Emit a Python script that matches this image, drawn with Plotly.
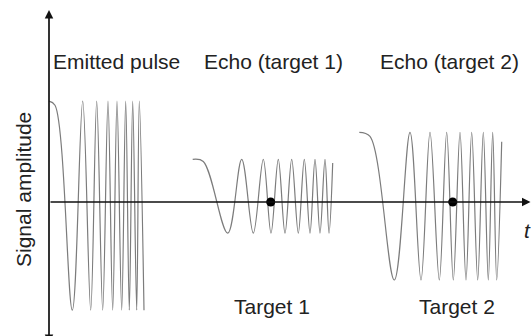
import plotly.graph_objects as go

# Emitted chirp and its two echoes, described by the times of their
# successive extrema (start, shoulder, then alternating troughs / peaks)
# and the signal amplitude at each of those instants.
emit_t = [0.0, 0.6, 2.33, 3.37, 4.17, 4.77, 5.37, 5.9, 6.37, 6.8, 7.27,
          7.67, 8.03, 8.37, 8.77, 9.03, 9.5]
emit_a = [0.97, 0.93, -1.04, 0.97, -1.04, 0.97, -1.04, 0.97, -1.04, 0.97,
          -1.04, 0.97, -1.04, 0.97, -1.04, 0.97, -1.04]

echo1_t = [14.37, 15.43, 17.87, 19.27, 20.43, 21.43, 22.2, 22.93, 23.6,
           24.27, 24.93, 25.53, 26.1, 26.6, 27.1, 27.6, 28.0, 28.37]
echo1_a = [0.41, 0.39, -0.30, 0.41, -0.30, 0.41, -0.30, 0.41, -0.30,
           0.41, -0.30, 0.41, -0.30, 0.41, -0.30, 0.41, -0.30, 0.375]

echo2_t = [31.03, 32.1, 34.53, 36.1, 37.2, 38.1, 39.03, 39.77, 40.43,
           41.1, 41.7, 42.27, 42.87, 43.43, 43.93, 44.37, 44.77, 45.27]
echo2_a = [0.67, 0.63, -0.75, 0.67, -0.75, 0.67, -0.75, 0.67, -0.75,
           0.67, -0.75, 0.67, -0.75, 0.67, -0.75, 0.67, -0.75, 0.58]

# Arrival times marking each target
target_t = [22.17, 40.37]
target_a = [0.0, 0.0]

pulse_labels = ["Emitted pulse", "Echo (target 1)", "Echo (target 2)"]
target_labels = ["Target 1", "Target 2"]

W, H = 531, 336
X_RANGE = [-4.9, 48.2]
Y_RANGE = [-1.2885, 1.9423]

WAVE = dict(color="#7c7c7c", width=1.2, shape="spline", smoothing=1.0)
FONT = "Liberation Sans, Arial, Helvetica, sans-serif"
TXT = "#222222"

fig = go.Figure()
for t, a in [(emit_t, emit_a), (echo1_t, echo1_a), (echo2_t, echo2_a)]:
    fig.add_trace(go.Scatter(x=t, y=a, mode="lines", line=WAVE,
                             hoverinfo="skip", showlegend=False))

fig.add_trace(go.Scatter(x=target_t, y=target_a, mode="markers",
                         marker=dict(color="black", size=9),
                         hoverinfo="skip", showlegend=False))

annotations = []

# time axis with arrow
annotations.append(dict(x=48.15, y=0, ax=0, ay=0, xref="x", yref="y",
                        axref="x", ayref="y", text="", showarrow=True,
                        arrowhead=2, arrowsize=1.0, arrowwidth=1.7,
                        arrowcolor="#111111", standoff=0))
# amplitude axis, arrows at both ends
annotations.append(dict(x=0, y=1.845, ax=0, ay=-1.37, xref="x", yref="y",
                        axref="x", ayref="y", text="", showarrow=True,
                        arrowhead=2, startarrowhead=2, arrowside="end+start",
                        arrowsize=1.0, startarrowsize=1.0, arrowwidth=1.7,
                        arrowcolor="#111111", standoff=0, startstandoff=0))


def px(x, y):
    return x / W, 1 - y / H


for label, (x, y) in zip(pulse_labels, [(51, 61), (201.5, 61), (377.5, 61)]):
    xp, yp = px(x, y)
    annotations.append(dict(x=xp, y=yp, xref="paper", yref="paper",
                            text=label, showarrow=False, xanchor="left",
                            yanchor="middle",
                            font=dict(family=FONT, size=21, color=TXT)))

for label, (x, y) in zip(target_labels, [(231.5, 306), (416.5, 306)]):
    xp, yp = px(x, y)
    annotations.append(dict(x=xp, y=yp, xref="paper", yref="paper",
                            text=label, showarrow=False, xanchor="left",
                            yanchor="middle",
                            font=dict(family=FONT, size=21, color=TXT)))

xp, yp = px(23, 190)
annotations.append(dict(x=xp, y=yp, xref="paper", yref="paper",
                        text="Signal amplitude", textangle=-90,
                        showarrow=False, xanchor="center", yanchor="middle",
                        font=dict(family=FONT, size=21, color=TXT)))

xp, yp = px(527, 230)
annotations.append(dict(x=xp, y=yp, xref="paper", yref="paper",
                        text="<i>t</i>", showarrow=False, xanchor="center",
                        yanchor="middle",
                        font=dict(family=FONT, size=21, color=TXT)))

fig.update_layout(
    width=W, height=H,
    margin=dict(l=0, r=0, t=0, b=0),
    paper_bgcolor="white", plot_bgcolor="white",
    xaxis=dict(range=X_RANGE, visible=False, fixedrange=True),
    yaxis=dict(range=Y_RANGE, visible=False, fixedrange=True),
    annotations=annotations,
    showlegend=False,
)

fig.write_html("out.html")
